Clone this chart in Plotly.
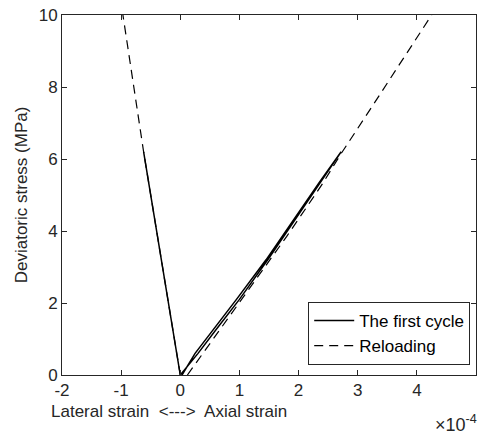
import plotly.graph_objects as go

# First cycle (solid): axial loading/unloading and lateral loading/unloading (x in 1e-4)
first_axial_x = [0.0, 0.3, 0.6, 1.0, 1.5, 2.0, 2.4, 2.72, 2.35, 1.95, 1.45, 0.95, 0.55, 0.25, 0.03]
first_axial_y = [0.0, 0.6, 1.25, 2.1, 3.25, 4.45, 5.4, 6.2, 5.35, 4.4, 3.2, 2.1, 1.25, 0.6, 0.0]
first_lat_x = [0.0, -0.2, -0.4, -0.62, -0.39, -0.19, 0.0]
first_lat_y = [0.0, 2.0, 4.0, 6.2, 4.0, 2.0, 0.0]

# Reloading (dashed)
reload_axial_x = [0.12, 0.6, 1.2, 1.8, 2.4, 2.72, 3.2, 3.7, 4.25]
reload_axial_y = [0.0, 1.1, 2.45, 3.85, 5.3, 6.15, 7.35, 8.6, 10.0]
reload_lat_x = [0.0, -0.3, -0.62, -0.97]
reload_lat_y = [0.0, 3.0, 6.2, 10.0]

x_ticks = [-2, -1, 0, 1, 2, 3, 4]
y_ticks = [0, 2, 4, 6, 8, 10]

FONT = "Liberation Sans, Arial, Helvetica, sans-serif"
AX = "#262626"
FS = 17

fig = go.Figure()
fig.add_trace(go.Scatter(x=first_axial_x, y=first_axial_y, mode="lines",
                         line=dict(color="black", width=1.5), name="The first cycle",
                         legendgroup="a"))
fig.add_trace(go.Scatter(x=first_lat_x, y=first_lat_y, mode="lines",
                         line=dict(color="black", width=1.5), name="The first cycle",
                         legendgroup="a", showlegend=False))
fig.add_trace(go.Scatter(x=reload_axial_x, y=reload_axial_y, mode="lines",
                         line=dict(color="black", width=1.2, dash="9px,6px"), name="Reloading",
                         legendgroup="b"))
fig.add_trace(go.Scatter(x=reload_lat_x, y=reload_lat_y, mode="lines",
                         line=dict(color="black", width=1.2, dash="9px,6px"), name="Reloading",
                         legendgroup="b", showlegend=False))

fig.update_layout(
    width=482, height=437,
    margin=dict(l=62, r=6, t=15, b=62),
    plot_bgcolor="white", paper_bgcolor="white",
    font=dict(family=FONT, size=FS, color=AX),
    showlegend=True,
    legend=dict(x=0.986, y=0.028, xanchor="right", yanchor="bottom",
                bgcolor="white", bordercolor="#262626", borderwidth=1,
                font=dict(size=FS, color="black"), tracegroupgap=0,
                itemwidth=40),
    xaxis=dict(range=[-2, 5], tickvals=x_ticks, ticktext=[str(v) for v in x_ticks],
               ticks="inside", ticklen=5, tickcolor=AX, showline=True, linecolor=AX,
               linewidth=1, mirror="allticks", showgrid=False, zeroline=False,
               tickfont=dict(size=FS, color=AX)),
    yaxis=dict(range=[0, 10], tickvals=y_ticks, ticktext=[str(v) for v in y_ticks],
               ticks="inside", ticklen=5, tickcolor=AX, showline=True, linecolor=AX,
               linewidth=1, mirror="allticks", showgrid=False, zeroline=False,
               title=dict(text="Deviatoric stress (MPa)", font=dict(size=FS, color=AX), standoff=6),
               tickfont=dict(size=FS, color=AX)),
)

fig.add_annotation(text="Lateral strain  <--->  Axial strain", xref="paper", yref="paper",
                   x=(49 - 62) / 414, y=-(411 - 375) / 360, xanchor="left", yanchor="middle",
                   showarrow=False, font=dict(size=FS, color=AX))
fig.add_annotation(text="\u00d710<sup>-4</sup>", xref="paper", yref="paper",
                   x=(479 - 62) / 414, y=-(423 - 375) / 360, xanchor="right", yanchor="middle",
                   showarrow=False, font=dict(size=FS + 1, color=AX))

fig.write_html("out.html")
